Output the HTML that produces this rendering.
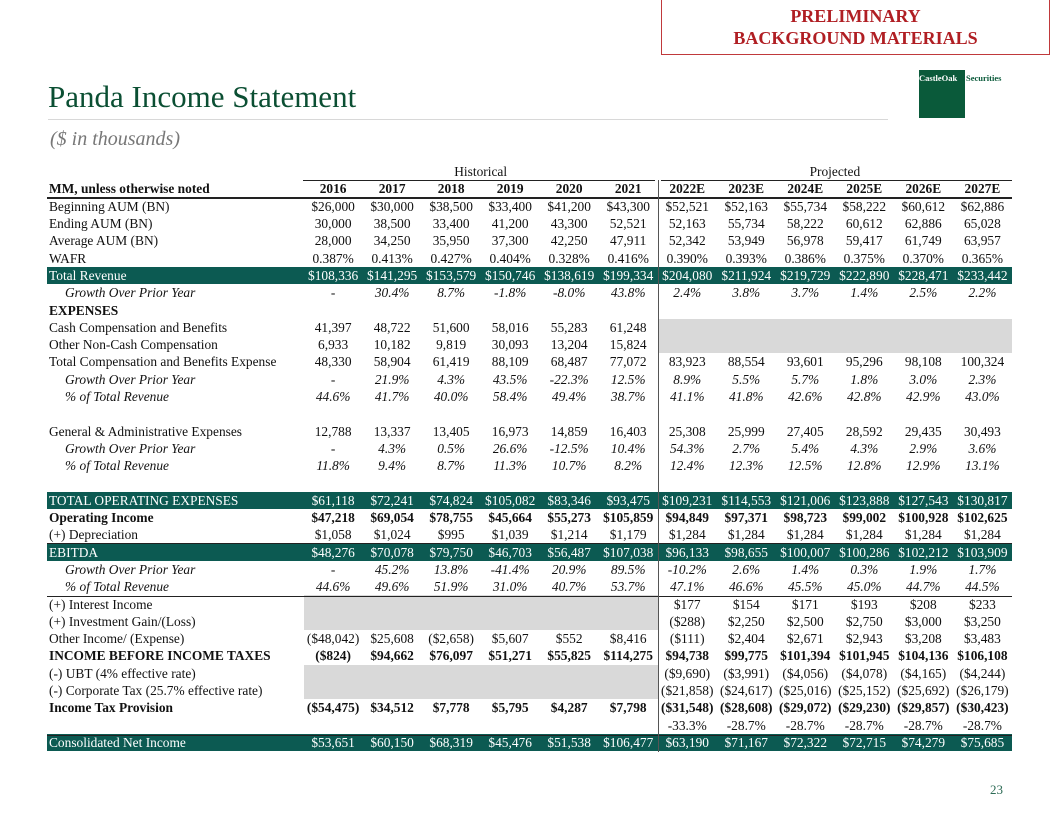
<!DOCTYPE html>
<html><head><meta charset="utf-8"><style>
body{margin:0;width:1056px;height:816px;background:#fff;position:relative;overflow:hidden;font-family:"Liberation Serif",serif;}
.abs{position:absolute}
table{position:absolute;left:47px;top:163px;border-collapse:collapse;table-layout:fixed;width:965px;font-size:13.4px;color:#111}
td{height:17.31px;padding:0;white-space:nowrap;text-align:center;line-height:17px;overflow:visible}
td.l{text-align:left;padding-left:2px}
td.i{font-style:italic;padding-left:18px;text-align:left}
tr.i td{font-style:italic}
tr.b td{font-weight:bold}
tr.g td{background:#0c5a52;color:#fff}
.gr{background:#d9d9d9}
</style></head><body>
<div class="abs" style="left:661px;top:0;width:389px;height:54px;border:1px solid #c0393b;border-top:none;text-align:center;color:#b01e23;font-weight:bold;font-size:18px;line-height:22px;padding-top:5px;box-sizing:border-box;height:55px">PRELIMINARY<br>BACKGROUND MATERIALS</div>
<div class="abs" style="left:919px;top:70px;width:46px;height:48px;background:#0a5a3a"></div>
<div class="abs" style="left:919px;top:73px;font-size:8.5px;font-weight:bold;color:#fff">CastleOak</div>
<div class="abs" style="left:966px;top:73px;font-size:8.5px;font-weight:bold;color:#0a5a3a">Securities</div>
<div class="abs" style="left:48px;top:79px;font-size:31px;color:#0b4f33">Panda Income Statement</div>
<div class="abs" style="left:48px;top:119px;width:840px;height:1px;background:#d8d8d8"></div>
<div class="abs" style="left:50px;top:128px;font-size:20px;font-style:italic;color:#777">($ in thousands)</div>
<div class="abs" style="left:990px;top:782px;font-size:13px;color:#2d6b55">23</div>

<table>
<colgroup><col style="width:256.5px"><col span="12" style="width:59px"></colgroup>
<tr><td></td><td colspan="6">Historical</td><td colspan="6">Projected</td></tr>
<tr class="b"><td class="l">MM, unless otherwise noted</td><td>2016</td><td>2017</td><td>2018</td><td>2019</td><td>2020</td><td>2021</td><td>2022E</td><td>2023E</td><td>2024E</td><td>2025E</td><td>2026E</td><td>2027E</td></tr>
<tr><td class="l">Beginning AUM (BN)</td><td>$26,000</td><td>$30,000</td><td>$38,500</td><td>$33,400</td><td>$41,200</td><td>$43,300</td><td>$52,521</td><td>$52,163</td><td>$55,734</td><td>$58,222</td><td>$60,612</td><td>$62,886</td></tr>
<tr><td class="l">Ending AUM (BN)</td><td>30,000</td><td>38,500</td><td>33,400</td><td>41,200</td><td>43,300</td><td>52,521</td><td>52,163</td><td>55,734</td><td>58,222</td><td>60,612</td><td>62,886</td><td>65,028</td></tr>
<tr><td class="l">Average AUM (BN)</td><td>28,000</td><td>34,250</td><td>35,950</td><td>37,300</td><td>42,250</td><td>47,911</td><td>52,342</td><td>53,949</td><td>56,978</td><td>59,417</td><td>61,749</td><td>63,957</td></tr>
<tr><td class="l">WAFR</td><td>0.387%</td><td>0.413%</td><td>0.427%</td><td>0.404%</td><td>0.328%</td><td>0.416%</td><td>0.390%</td><td>0.393%</td><td>0.386%</td><td>0.375%</td><td>0.370%</td><td>0.365%</td></tr>
<tr class="g"><td class="l">Total Revenue</td><td>$108,336</td><td>$141,295</td><td>$153,579</td><td>$150,746</td><td>$138,619</td><td>$199,334</td><td>$204,080</td><td>$211,924</td><td>$219,729</td><td>$222,890</td><td>$228,471</td><td>$233,442</td></tr>
<tr class="i"><td class="i">Growth Over Prior Year</td><td>-</td><td>30.4%</td><td>8.7%</td><td>-1.8%</td><td>-8.0%</td><td>43.8%</td><td>2.4%</td><td>3.8%</td><td>3.7%</td><td>1.4%</td><td>2.5%</td><td>2.2%</td></tr>
<tr class="b"><td class="l">EXPENSES</td><td colspan="12"></td></tr>
<tr><td class="l">Cash Compensation and Benefits</td><td>41,397</td><td>48,722</td><td>51,600</td><td>58,016</td><td>55,283</td><td>61,248</td><td class="gr" colspan="6"></td></tr>
<tr><td class="l">Other Non-Cash Compensation</td><td>6,933</td><td>10,182</td><td>9,819</td><td>30,093</td><td>13,204</td><td>15,824</td><td class="gr" colspan="6"></td></tr>
<tr><td class="l">Total Compensation and Benefits Expense</td><td>48,330</td><td>58,904</td><td>61,419</td><td>88,109</td><td>68,487</td><td>77,072</td><td>83,923</td><td>88,554</td><td>93,601</td><td>95,296</td><td>98,108</td><td>100,324</td></tr>
<tr class="i"><td class="i">Growth Over Prior Year</td><td>-</td><td>21.9%</td><td>4.3%</td><td>43.5%</td><td>-22.3%</td><td>12.5%</td><td>8.9%</td><td>5.5%</td><td>5.7%</td><td>1.8%</td><td>3.0%</td><td>2.3%</td></tr>
<tr class="i"><td class="i">% of Total Revenue</td><td>44.6%</td><td>41.7%</td><td>40.0%</td><td>58.4%</td><td>49.4%</td><td>38.7%</td><td>41.1%</td><td>41.8%</td><td>42.6%</td><td>42.8%</td><td>42.9%</td><td>43.0%</td></tr>
<tr><td colspan="13"></td></tr>
<tr><td class="l">General &amp; Administrative Expenses</td><td>12,788</td><td>13,337</td><td>13,405</td><td>16,973</td><td>14,859</td><td>16,403</td><td>25,308</td><td>25,999</td><td>27,405</td><td>28,592</td><td>29,435</td><td>30,493</td></tr>
<tr class="i"><td class="i">Growth Over Prior Year</td><td>-</td><td>4.3%</td><td>0.5%</td><td>26.6%</td><td>-12.5%</td><td>10.4%</td><td>54.3%</td><td>2.7%</td><td>5.4%</td><td>4.3%</td><td>2.9%</td><td>3.6%</td></tr>
<tr class="i"><td class="i">% of Total Revenue</td><td>11.8%</td><td>9.4%</td><td>8.7%</td><td>11.3%</td><td>10.7%</td><td>8.2%</td><td>12.4%</td><td>12.3%</td><td>12.5%</td><td>12.8%</td><td>12.9%</td><td>13.1%</td></tr>
<tr><td colspan="13"></td></tr>
<tr class="g"><td class="l">TOTAL OPERATING EXPENSES</td><td>$61,118</td><td>$72,241</td><td>$74,824</td><td>$105,082</td><td>$83,346</td><td>$93,475</td><td>$109,231</td><td>$114,553</td><td>$121,006</td><td>$123,888</td><td>$127,543</td><td>$130,817</td></tr>
<tr class="b"><td class="l">Operating Income</td><td>$47,218</td><td>$69,054</td><td>$78,755</td><td>$45,664</td><td>$55,273</td><td>$105,859</td><td>$94,849</td><td>$97,371</td><td>$98,723</td><td>$99,002</td><td>$100,928</td><td>$102,625</td></tr>
<tr><td class="l">(+) Depreciation</td><td>$1,058</td><td>$1,024</td><td>$995</td><td>$1,039</td><td>$1,214</td><td>$1,179</td><td>$1,284</td><td>$1,284</td><td>$1,284</td><td>$1,284</td><td>$1,284</td><td>$1,284</td></tr>
<tr class="g"><td class="l">EBITDA</td><td>$48,276</td><td>$70,078</td><td>$79,750</td><td>$46,703</td><td>$56,487</td><td>$107,038</td><td>$96,133</td><td>$98,655</td><td>$100,007</td><td>$100,286</td><td>$102,212</td><td>$103,909</td></tr>
<tr class="i"><td class="i">Growth Over Prior Year</td><td>-</td><td>45.2%</td><td>13.8%</td><td>-41.4%</td><td>20.9%</td><td>89.5%</td><td>-10.2%</td><td>2.6%</td><td>1.4%</td><td>0.3%</td><td>1.9%</td><td>1.7%</td></tr>
<tr class="i"><td class="i">% of Total Revenue</td><td>44.6%</td><td>49.6%</td><td>51.9%</td><td>31.0%</td><td>40.7%</td><td>53.7%</td><td>47.1%</td><td>46.6%</td><td>45.5%</td><td>45.0%</td><td>44.7%</td><td>44.5%</td></tr>
<tr><td class="l">(+) Interest Income</td><td class="gr" colspan="6"></td><td>$177</td><td>$154</td><td>$171</td><td>$193</td><td>$208</td><td>$233</td></tr>
<tr><td class="l">(+) Investment Gain/(Loss)</td><td class="gr" colspan="6"></td><td>($288)</td><td>$2,250</td><td>$2,500</td><td>$2,750</td><td>$3,000</td><td>$3,250</td></tr>
<tr><td class="l">Other Income/ (Expense)</td><td>($48,042)</td><td>$25,608</td><td>($2,658)</td><td>$5,607</td><td>$552</td><td>$8,416</td><td>($111)</td><td>$2,404</td><td>$2,671</td><td>$2,943</td><td>$3,208</td><td>$3,483</td></tr>
<tr class="b"><td class="l">INCOME BEFORE INCOME TAXES</td><td>($824)</td><td>$94,662</td><td>$76,097</td><td>$51,271</td><td>$55,825</td><td>$114,275</td><td>$94,738</td><td>$99,775</td><td>$101,394</td><td>$101,945</td><td>$104,136</td><td>$106,108</td></tr>
<tr><td class="l">(-) UBT (4% effective rate)</td><td class="gr" colspan="6"></td><td>($9,690)</td><td>($3,991)</td><td>($4,056)</td><td>($4,078)</td><td>($4,165)</td><td>($4,244)</td></tr>
<tr><td class="l">(-) Corporate Tax (25.7% effective rate)</td><td class="gr" colspan="6"></td><td>($21,858)</td><td>($24,617)</td><td>($25,016)</td><td>($25,152)</td><td>($25,692)</td><td>($26,179)</td></tr>
<tr class="b"><td class="l">Income Tax Provision</td><td>($54,475)</td><td>$34,512</td><td>$7,778</td><td>$5,795</td><td>$4,287</td><td>$7,798</td><td>($31,548)</td><td>($28,608)</td><td>($29,072)</td><td>($29,230)</td><td>($29,857)</td><td>($30,423)</td></tr>
<tr><td colspan="7"></td><td>-33.3%</td><td>-28.7%</td><td>-28.7%</td><td>-28.7%</td><td>-28.7%</td><td>-28.7%</td></tr>
<tr class="g"><td class="l">Consolidated Net Income</td><td>$53,651</td><td>$60,150</td><td>$68,319</td><td>$45,476</td><td>$51,538</td><td>$106,477</td><td>$63,190</td><td>$71,167</td><td>$72,322</td><td>$72,715</td><td>$74,279</td><td>$75,685</td></tr>
</table>
<!-- lines -->
<div class="abs" style="left:303px;top:180px;width:352px;height:1px;background:#222"></div>
<div class="abs" style="left:661px;top:180px;width:351px;height:1px;background:#222"></div>
<div class="abs" style="left:47px;top:197px;width:965px;height:2px;background:#222"></div>
<div class="abs" style="left:47px;top:543px;width:965px;height:1px;background:#222"></div>
<div class="abs" style="left:47px;top:596px;width:965px;height:1px;background:#222"></div>
<div class="abs" style="left:47px;top:735px;width:965px;height:1px;background:#222"></div>
<div class="abs" style="left:658px;top:180px;width:1px;height:572px;background:#555"></div>
</body></html>
